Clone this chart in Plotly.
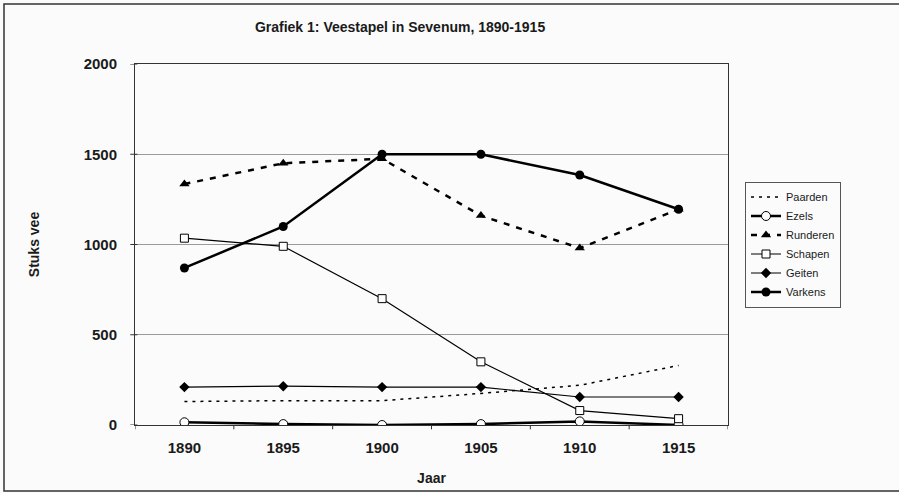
import plotly.graph_objects as go

jaren = ["1890", "1895", "1900", "1905", "1910", "1915"]

paarden = [130, 135, 135, 175, 220, 330]
ezels = [15, 5, 0, 5, 20, 0]
runderen = [1335, 1450, 1475, 1160, 980, 1195]
schapen = [1035, 990, 700, 350, 80, 35]
geiten = [210, 215, 210, 210, 155, 155]
varkens = [870, 1100, 1500, 1500, 1385, 1195]

y_ticks = [0, 500, 1000, 1500, 2000]

fig = go.Figure()

# volgorde zoals in de legenda
fig.add_trace(go.Scatter(x=jaren, y=paarden, name="Paarden", mode="lines",
                         line=dict(color="black", width=1.5, dash="3px,5px")))
fig.add_trace(go.Scatter(x=jaren, y=ezels, name="Ezels", mode="lines+markers",
                         line=dict(color="black", width=2.5),
                         marker=dict(symbol="circle", size=9, color="white",
                                     line=dict(color="black", width=1))))
fig.add_trace(go.Scatter(x=jaren, y=runderen, name="Runderen", mode="lines+markers",
                         line=dict(color="black", width=2.5, dash="6px,7px"),
                         marker=dict(symbol="triangle-up", size=9, color="black")))
fig.add_trace(go.Scatter(x=jaren, y=schapen, name="Schapen", mode="lines+markers",
                         line=dict(color="black", width=1.2),
                         marker=dict(symbol="square", size=8, color="white",
                                     line=dict(color="black", width=1))))
fig.add_trace(go.Scatter(x=jaren, y=geiten, name="Geiten", mode="lines+markers",
                         line=dict(color="black", width=1.2),
                         marker=dict(symbol="diamond", size=8, color="black")))
fig.add_trace(go.Scatter(x=jaren, y=varkens, name="Varkens", mode="lines+markers",
                         line=dict(color="black", width=2.5),
                         marker=dict(symbol="circle", size=9, color="black")))

fnt = "Liberation Sans, Arial, sans-serif"

fig.update_layout(
    width=899, height=493,
    margin=dict(l=135, r=171, t=64, b=68),
    paper_bgcolor="#fbfbfb",
    plot_bgcolor="#fbfbfb",
    font=dict(family=fnt, size=14, color="#1a1a1a"),
    title=dict(text="<b>Grafiek 1: Veestapel in Sevenum, 1890-1915</b>",
               x=0.445, xanchor="center", y=0.945, yanchor="middle",
               font=dict(size=14, color="#1a1a1a")),
    showlegend=True,
    legend=dict(x=(745 - 135) / 593, y=0.5, xanchor="left", yanchor="middle",
                bgcolor="#fbfbfb", bordercolor="#555", borderwidth=1,
                font=dict(size=11, color="#1a1a1a"), tracegroupgap=0,
                itemwidth=30),
)

fig.update_xaxes(
    type="category", range=[-0.5, 5.5], automargin=False,
    showgrid=False, showline=True, linecolor="#333", linewidth=1,
    mirror=True, ticks="outside", ticklen=9, tickcolor="rgba(0,0,0,0)",
    tickfont=dict(size=15, weight="bold"),
    title=dict(text="<b>Jaar</b>", font=dict(size=14), standoff=18),
)
fig.update_yaxes(
    range=[0, 2000], tickvals=y_ticks, automargin=False,
    showgrid=True, gridcolor="#9a9a9a", gridwidth=1,
    showline=True, linecolor="#333", linewidth=1, mirror=True,
    ticks="outside", ticklen=14, tickcolor="rgba(0,0,0,0)", zeroline=False,
    tickfont=dict(size=15, weight="bold"),
    title=dict(text="<b>Stuks vee</b>", font=dict(size=14), standoff=40),
)

# kleine streepjes tussen de jaren op de x-as
for i in range(7):
    fig.add_shape(type="line", xref="x", yref="paper",
                  x0=i - 0.5, x1=i - 0.5, y0=0, y1=-0.012,
                  line=dict(color="#333", width=1))
# korte streepjes op de y-as
for v in y_ticks:
    fig.add_shape(type="line", xref="paper", yref="y",
                  x0=-0.008, x1=0.004, y0=v, y1=v,
                  line=dict(color="#333", width=1))

# kader rond de hele figuur
fig.add_shape(type="rect", xref="paper", yref="paper",
              x0=(4 - 135) / 593, x1=(905 - 135) / 593,
              y0=(425 - 491) / 361, y1=(425 - 4) / 361,
              line=dict(color="#333", width=1.5), fillcolor="rgba(0,0,0,0)",
              layer="below")

fig.write_html("out.html", config={"displayModeBar": False},
               post_script="document.body.style.margin='0';")
